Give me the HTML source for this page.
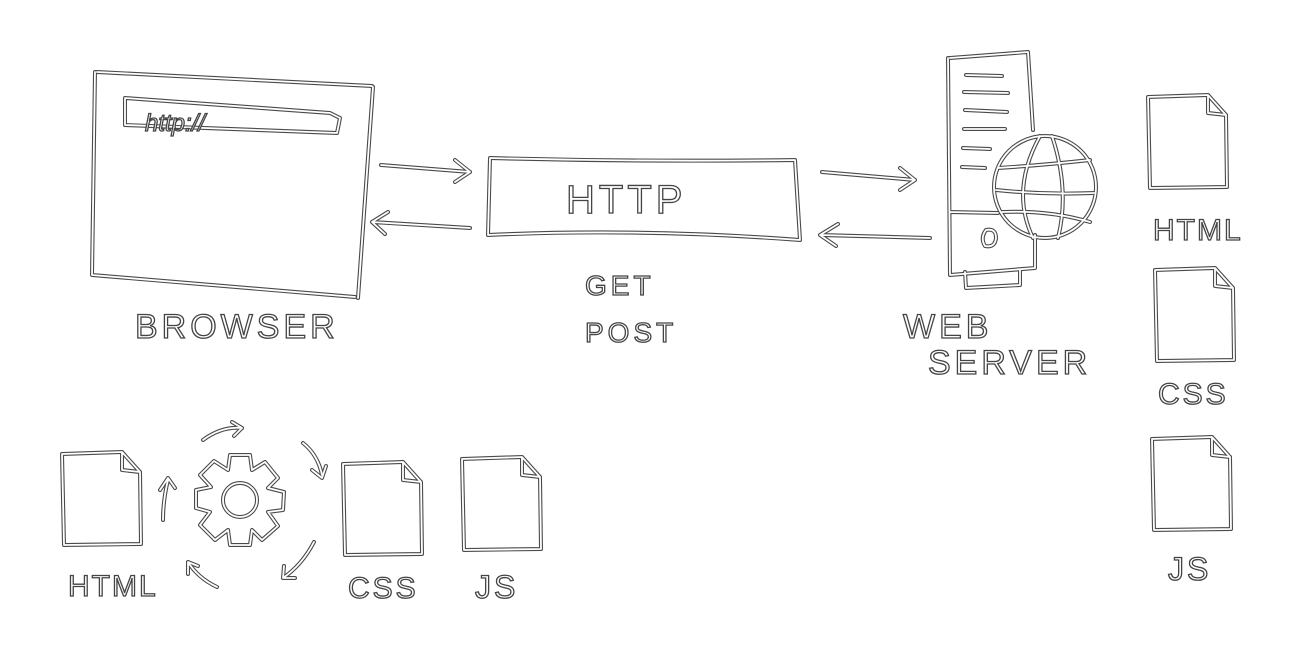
<!DOCTYPE html>
<html><head><style>
html,body{margin:0;padding:0;background:#fff;width:1299px;height:650px;overflow:hidden}
svg{display:block}
.o{fill:none;stroke:#4a4a4a;stroke-width:4;stroke-linecap:round;stroke-linejoin:round}
.i{fill:none;stroke:#fff;stroke-width:1.8;stroke-linecap:round;stroke-linejoin:round}
text{font-family:"Liberation Sans",sans-serif;fill:#fff;stroke:#444;stroke-width:1.3;font-weight:normal}
</style></head><body>
<svg width="1299" height="650" viewBox="0 0 1299 650">
<defs>
<path id="doc" d="M0,2 L60,0 L78,20 L79,92 L2,93 Z M60,0 L60,18 L78,20"/>
<g id="art">
<!-- browser -->
<path d="M97,72 L372,86 M95,72 L92,275 L355,297 M373,87 L358,298"/>
<path d="M125,98 L330,113 L340,118 L337,133 L125,125 Z"/>
<!-- arrows left -->
<path d="M381,165 L470,172 M455,160 L470,172 L455,182"/>
<path d="M470,228 L372,222 M388,212 L372,222 L385,234"/>
<!-- HTTP box -->
<path d="M490,158 Q640,162 795,160 L800,240 Q640,228 488,235 Z"/>
<!-- arrows right -->
<path d="M822,172 L915,180 M900,168 L915,180 L900,190"/>
<path d="M930,238 L820,235 M838,224 L820,235 L836,246"/>
<!-- server -->
<path d="M950,58 L1028,52 L1033,130 M948,58 L950,275 L1035,268 L1035,235 M950,212 L998,213"/>
<path d="M966,75 L1002,76 M964,92 L1008,93 M965,110 L1007,112 M964,129 L1005,129 M963,148 L990,149 M962,167 L985,168"/>
<path d="M986,230 Q996,228 996,238 Q995,248 985,246 Q980,238 986,230 Z"/>
<path d="M965,272 L966,288 L1020,285 L1020,270"/>
<circle cx="1045" cy="187" r="51"/>
<path d="M1040,136 Q1010,190 1033,238 M1052,136 Q1070,190 1058,238 M998,168 Q1045,165 1090,160 M996,190 Q1045,195 1094,193 M1002,212 Q1050,210 1090,222"/>
<!-- right docs -->
<use href="#doc" transform="translate(1148,95)"/>
<use href="#doc" transform="translate(1155,268)"/>
<use href="#doc" transform="translate(1152,437)"/>
<!-- bottom docs -->
<use href="#doc" transform="translate(62,452)"/>
<use href="#doc" transform="translate(343,462)"/>
<use href="#doc" transform="translate(462,457)"/>
<!-- gear -->
<path d="M230,455 L250,455 L252,470 L265,462 L278,478 L268,488 L284,492 L283,510 L268,512 L278,526 L262,540 L252,530 L250,545 L230,545 L228,530 L215,540 L200,525 L210,512 L196,508 L196,490 L211,487 L200,475 L214,461 L228,470 Z"/>
<circle cx="240" cy="500" r="17"/>
<!-- cycle arrows -->
<path d="M203,440 Q222,426 242,428 M232,422 L242,428 L234,436"/>
<path d="M303,443 Q318,455 322,475 M312,470 L322,478 L326,466"/>
<path d="M314,542 Q302,565 283,578 M284,566 L283,578 L295,578"/>
<path d="M217,587 Q198,578 188,562 M188,574 L188,562 L198,566"/>
<path d="M163,520 Q163,500 168,480 M160,490 L168,478 L175,488"/>
</g>
</defs>
<use href="#art" class="o"/>
<use href="#art" class="i"/>
<text x="145" y="131" font-size="24" font-style="italic">http://</text>
<text x="566" y="213" font-size="40" letter-spacing="4">HTTP</text>
<text x="585" y="295" font-size="28" letter-spacing="4">GET</text>
<text x="585" y="342" font-size="28" letter-spacing="4">POST</text>
<text x="135" y="338" font-size="34" letter-spacing="4">BROWSER</text>
<text x="903" y="338" font-size="34" letter-spacing="4">WEB</text>
<text x="928" y="374" font-size="34" letter-spacing="4">SERVER</text>
<text x="1153" y="240" font-size="30" letter-spacing="2">HTML</text>
<text x="1158" y="404" font-size="30" letter-spacing="3">CSS</text>
<text x="1168" y="580" font-size="32" letter-spacing="3">JS</text>
<text x="68" y="596" font-size="30" letter-spacing="2">HTML</text>
<text x="348" y="598" font-size="30" letter-spacing="3">CSS</text>
<text x="475" y="598" font-size="32" letter-spacing="3">JS</text>
</svg>
</body></html>
